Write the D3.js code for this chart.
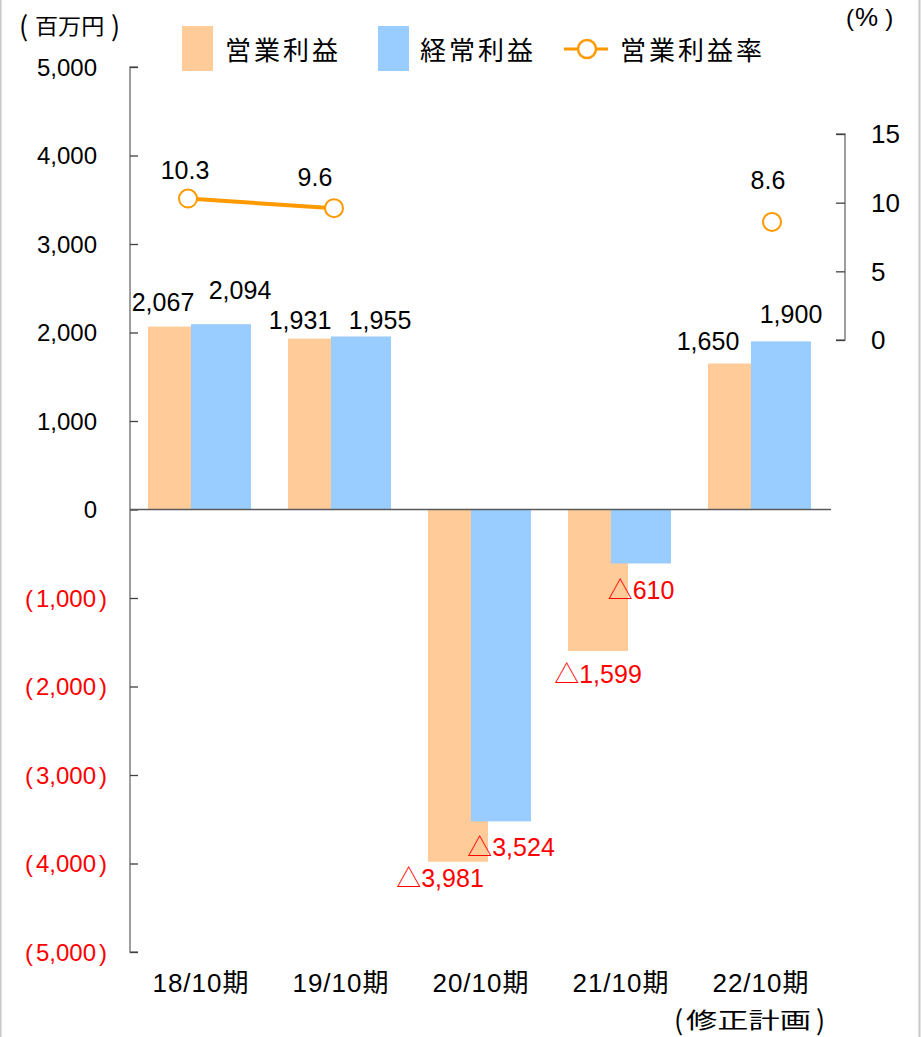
<!DOCTYPE html>
<html><head><meta charset="utf-8">
<script src="https://cdn.jsdelivr.net/npm/d3@7"></script>
<style>
body{margin:0;background:#fff;}
svg{display:block;}
text{font-family:"Liberation Sans","Noto Sans CJK JP",sans-serif;}
.cjk{font-family:"Noto Sans CJK JP",sans-serif;}
</style></head>
<body>
<svg id="c" width="921" height="1037"></svg>
<script>
// ---- data ----
const categories = ["18/10期","19/10期","20/10期","21/10期","22/10期"];
const operatingProfit = [2067, 1931, -3981, -1599, 1650];   // 営業利益
const ordinaryProfit  = [2094, 1955, -3524, -610, 1900];    // 経常利益
const operatingMargin = [10.3, 9.6, null, null, 8.6];       // 営業利益率
const leftTicks  = [5000,4000,3000,2000,1000,0,-1000,-2000,-3000,-4000,-5000];
const rightTicks = [0,5,10,15];
const seriesNames = ["営業利益","経常利益","営業利益率"];

// ---- layout (label nudges, px) ----
const opNudge = [[-15,-25],[-18,-19],[-18,16],[0,23],[-30,-22]];
const ordNudge = [[19,-34],[19,-16],[10,26],[0,27],[10,-27]];
const rateNudge = [[-3,-29],[-19,-31],null,null,[-4,-42]];

const svg = d3.select("#c");
const orange = "#FFCC99", blue = "#99CCFF", lineCol = "#FF9900", red = "#FF0000";

// borders
svg.append("line").attr("x1",0.5).attr("x2",0.5).attr("y1",0).attr("y2",1037).attr("stroke","#c8c8c8").attr("stroke-width",2);
svg.append("line").attr("x1",919.5).attr("x2",919.5).attr("y1",0).attr("y2",1037).attr("stroke","#c8c8c8").attr("stroke-width",2);

const x = d3.scaleBand().domain(categories).range([130,830]);
const xLine = d3.scalePoint().domain(categories).range([188,772]);
const y = d3.scaleLinear().domain([-5000,5000]).range([952,67]);
const y2 = d3.scaleLinear().domain([0,15]).range([340,134]);
const fmt = d3.format(",");

// left axis
const gL = svg.append("g").attr("transform","translate(130,0)")
  .call(d3.axisRight(y).tickValues(leftTicks).tickSize(8).tickFormat(""));
gL.select(".domain").attr("stroke","#7f7f7f").attr("stroke-width",1.5).attr("d","M8,67H0V952H8");
gL.selectAll(".tick line").attr("stroke","#404040").attr("stroke-width",1.3);
const lt = svg.append("g").selectAll("text").data(leftTicks).join("text")
  .attr("x",d=>d<0?107:97).attr("y",d=>y(d)).attr("dy","0.36em")
  .attr("text-anchor","end").attr("font-size",24)
  .attr("fill",d=>d<0?red:"#000");
lt.each(function(d){
  const t = d3.select(this);
  if(d<0){
    t.append("tspan").text("(");
    t.append("tspan").attr("dx",3).text(fmt(-d));
    t.append("tspan").attr("dx",3).text(")");
  } else t.text(fmt(d));
});

// right axis
const gR = svg.append("g").attr("transform","translate(845,0)")
  .call(d3.axisLeft(y2).tickValues(rightTicks).tickSize(9).tickFormat(""));
gR.select(".domain").attr("stroke","#7f7f7f").attr("stroke-width",1.5).attr("d","M-9,134H0V340H-9");
gR.selectAll(".tick line").attr("stroke","#404040").attr("stroke-width",1.3);
svg.append("g").selectAll("text").data(rightTicks).join("text")
  .attr("x",871).attr("y",d=>y2(d)).attr("dy","0.36em")
  .attr("font-size",26).text(d=>d);

// bars
const cx = c => x(c) + x.bandwidth()/2;
svg.append("g").selectAll("rect").data(categories).join("rect")
  .attr("x",c=>cx(c)-52).attr("width",60)
  .attr("y",(c,i)=>y(Math.max(0,operatingProfit[i])))
  .attr("height",(c,i)=>Math.abs(y(operatingProfit[i])-y(0)))
  .attr("fill",orange);
svg.append("g").selectAll("rect").data(categories).join("rect")
  .attr("x",c=>cx(c)-9).attr("width",60)
  .attr("y",(c,i)=>y(Math.max(0,ordinaryProfit[i])))
  .attr("height",(c,i)=>Math.abs(y(ordinaryProfit[i])-y(0)))
  .attr("fill",blue);

// zero line
svg.append("line").attr("x1",130).attr("x2",831).attr("y1",y(0)).attr("y2",y(0))
  .attr("stroke","#595959").attr("stroke-width",1.5);

// bar labels
function barLabels(vals, offset, nudge){
  const g = svg.append("g");
  vals.forEach((v,i)=>{
    const bx = cx(categories[i]) + offset + nudge[i][0];
    const by = y(v) + nudge[i][1];
    const t = g.append("text").attr("x",bx).attr("y",by).attr("dy","0.36em")
      .attr("text-anchor","middle").attr("font-size",25)
      .attr("fill",v<0?red:"#000");
    if(v<0){
      t.append("tspan").attr("class","cjk").text("△");
      t.append("tspan").text(fmt(-v));
    } else t.text(fmt(v));
  });
}
barLabels(operatingProfit,-22,opNudge);
barLabels(ordinaryProfit,21,ordNudge);

// line
const pts = categories.map((c,i)=>({c,v:operatingMargin[i],i}));
svg.append("path").datum(pts)
  .attr("d",d3.line().defined(d=>d.v!=null).x(d=>xLine(d.c)).y(d=>y2(d.v)))
  .attr("fill","none").attr("stroke",lineCol).attr("stroke-width",4);
const valid = pts.filter(d=>d.v!=null);
svg.append("g").selectAll("circle").data(valid).join("circle")
  .attr("cx",d=>xLine(d.c)).attr("cy",d=>y2(d.v)).attr("r",9)
  .attr("fill","#fff").attr("stroke",lineCol).attr("stroke-width",2);
svg.append("g").selectAll("text").data(valid).join("text")
  .attr("x",d=>xLine(d.c)+rateNudge[d.i][0]).attr("y",d=>y2(d.v)+rateNudge[d.i][1])
  .attr("dy","0.36em").attr("text-anchor","middle").attr("font-size",25)
  .text(d=>d.v.toFixed(1));

// category labels
svg.append("g").selectAll("text").data(categories).join("text")
  .attr("x",c=>cx(c)+1).attr("y",983).attr("dy","0.36em")
  .attr("text-anchor","middle").attr("font-size",26).attr("letter-spacing",1)
  .text(c=>c);

// bracketed labels: paren pieces placed separately, inner text scaled horizontally
function bracketed(lx, inner, rx, yc, fs, innerX, sx, cls){
  const g = svg.append("g");
  g.append("text").attr("class","cjk").attr("x",lx).attr("y",yc).attr("dy","0.38em")
    .attr("font-size",fs+5).text("(");
  g.append("text").attr("class",cls).attr("transform",`translate(${innerX},${yc}) scale(${sx},1)`)
    .attr("dy","0.36em").attr("font-size",fs).text(inner);
  g.append("text").attr("class","cjk").attr("x",rx).attr("y",yc).attr("dy","0.38em")
    .attr("font-size",fs+5).text(")");
}
bracketed(19, "百万円", 111, 26, 22, 35, 1.05, "cjk");
bracketed(674, "修正計画", 816, 1020, 22, 686, 1.42, "cjk");

// (%) as one text element
const pct = svg.append("text").attr("x",846).attr("y",17).attr("dy","0.36em").attr("font-size",24);
pct.append("tspan").text("(");
pct.append("tspan").attr("dx",1).attr("font-size",26).text("%");
pct.append("tspan").attr("dx",7).text(")");

// legend
const lg = svg.append("g");
lg.append("rect").attr("x",182).attr("y",26).attr("width",31).attr("height",45).attr("fill",orange);
lg.append("text").attr("class","cjk").attr("x",225).attr("y",51).attr("dy","0.36em")
  .attr("font-size",26).attr("letter-spacing",3).text(seriesNames[0]);
lg.append("rect").attr("x",378).attr("y",26).attr("width",31).attr("height",45).attr("fill",blue);
lg.append("text").attr("class","cjk").attr("x",420).attr("y",51).attr("dy","0.36em")
  .attr("font-size",26).attr("letter-spacing",3).text(seriesNames[1]);
lg.append("line").attr("x1",564).attr("x2",608).attr("y1",49).attr("y2",49)
  .attr("stroke",lineCol).attr("stroke-width",3);
lg.append("circle").attr("cx",587).attr("cy",49).attr("r",9)
  .attr("fill","#fff").attr("stroke",lineCol).attr("stroke-width",2.5);
lg.append("text").attr("class","cjk").attr("x",620).attr("y",51).attr("dy","0.36em")
  .attr("font-size",26).attr("letter-spacing",3).text(seriesNames[2]);
</script>
</body></html>
